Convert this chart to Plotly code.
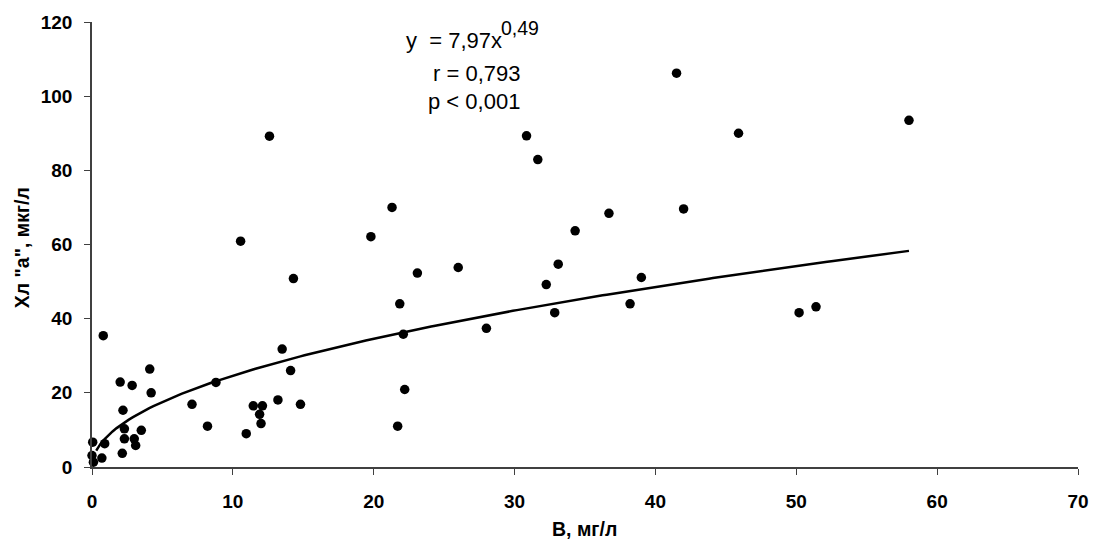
import numpy as np
import plotly.graph_objects as go

# Observed data: B, mg/l  vs  Chl "a", ug/l
b_mg_l = [0.0, 0.1, 0.05, 0.7, 0.9, 0.8, 2.0, 2.15, 2.2, 2.3, 2.3, 2.85, 3.0, 3.1, 3.5,
          4.1, 4.2, 7.1, 8.2, 8.8, 10.55, 10.95, 11.45, 12.1, 11.9, 12.0, 12.6, 13.2,
          13.5, 14.1, 14.3, 14.8, 19.8, 21.3, 21.7, 21.85, 22.1, 22.2, 23.1, 26.0,
          28.0, 30.85, 31.65, 32.25, 32.85, 33.1, 34.3, 36.7, 38.2, 39.0, 41.5, 42.0,
          45.9, 50.2, 51.4, 58.0]
chl_a = [3.1, 1.3, 6.7, 2.4, 6.3, 35.4, 22.9, 3.7, 15.3, 10.3, 7.6, 22.0, 7.6, 5.8, 9.9,
         26.4, 20.0, 16.9, 11.0, 22.8, 60.9, 9.0, 16.5, 16.5, 14.2, 11.7, 89.2, 18.1,
         31.8, 26.0, 50.8, 16.9, 62.1, 70.0, 11.0, 44.0, 35.8, 20.9, 52.3, 53.8,
         37.4, 89.3, 82.9, 49.2, 41.6, 54.7, 63.7, 68.4, 44.0, 51.1, 106.2, 69.6,
         90.0, 41.6, 43.2, 93.5]

# Power trend line y = A * x^B as stated on the chart
fit_a = 7.97
fit_b = 0.49
fit_x = np.linspace(0.3, 58.0, 200)
fit_y = fit_a * fit_x ** fit_b

x_ticks = [0, 10, 20, 30, 40, 50, 60, 70]
y_ticks = [0, 20, 40, 60, 80, 100, 120]

FONT = "Arial, 'Liberation Sans', sans-serif"
AXIS_COLOR = "#404040"

# plot area in page pixels
L, R, T, B = 92, 1088, 21, 467
W, H = 1101, 542


def px_x(p):
    return (p - L) / (R - L)


def px_y(p):
    return (B - p) / (B - T)


fig = go.Figure()
fig.add_trace(go.Scatter(x=fit_x, y=fit_y, mode="lines",
                         line=dict(color="black", width=2.5),
                         showlegend=False, hoverinfo="skip"))
fig.add_trace(go.Scatter(x=b_mg_l, y=chl_a, mode="markers",
                         marker=dict(color="black", size=9.5),
                         cliponaxis=False, showlegend=False))

fig.update_layout(
    width=W, height=H,
    margin=dict(l=L, r=W - R, t=T, b=H - B),
    paper_bgcolor="white", plot_bgcolor="white",
    font=dict(family=FONT, color="black"),
)
fig.update_xaxes(range=[0, 70], tickvals=x_ticks, ticktext=[str(v) for v in x_ticks],
                 showgrid=False, zeroline=False, showline=True, linecolor=AXIS_COLOR,
                 linewidth=1.5, ticks="outside", ticklen=6, tickcolor=AXIS_COLOR,
                 ticklabelstandoff=10,
                 tickfont=dict(size=19, family=FONT, color="black", weight="bold"))
fig.update_yaxes(range=[0, 120], tickvals=y_ticks, ticktext=[str(v) for v in y_ticks],
                 showgrid=False, zeroline=False, showline=True, linecolor=AXIS_COLOR,
                 linewidth=1.5, ticks="outside", ticklen=6, tickcolor=AXIS_COLOR,
                 ticklabelstandoff=8,
                 tickfont=dict(size=19, family=FONT, color="black", weight="bold"))

# axis titles
fig.add_annotation(text="<b>В, мг/л</b>", xref="paper", yref="paper",
                   x=px_x(589), y=px_y(529),
                   showarrow=False, font=dict(size=19.5, family=FONT, color="black"),
                   xanchor="center", yanchor="middle")
fig.add_annotation(text='<b>Хл "а", мкг/л</b>', xref="paper", yref="paper",
                   x=px_x(22), y=px_y(247),
                   showarrow=False, textangle=-90, font=dict(size=19.5, family=FONT, color="black"),
                   xanchor="center", yanchor="middle")

# equation text
fig.add_annotation(text="y&nbsp;&nbsp;= 7,97x", xref="paper", yref="paper",
                   x=px_x(508), y=px_y(40), showarrow=False,
                   font=dict(size=22, family=FONT, color="black"),
                   xanchor="right", yanchor="middle")
fig.add_annotation(text="0,49", xref="paper", yref="paper",
                   x=px_x(503), y=px_y(27), showarrow=False,
                   font=dict(size=19.5, family=FONT, color="black"),
                   xanchor="left", yanchor="middle")
fig.add_annotation(text="r = 0,793", xref="paper", yref="paper",
                   x=px_x(480), y=px_y(73), showarrow=False,
                   font=dict(size=22, family=FONT, color="black"),
                   xanchor="center", yanchor="middle")
fig.add_annotation(text="p < 0,001", xref="paper", yref="paper",
                   x=px_x(478), y=px_y(101), showarrow=False,
                   font=dict(size=22, family=FONT, color="black"),
                   xanchor="center", yanchor="middle")

# remove the default 8px page margin so the figure sits at the window origin
fig.write_html("out.html", config={"displayModeBar": False},
               post_script="document.body.style.margin='0';")
